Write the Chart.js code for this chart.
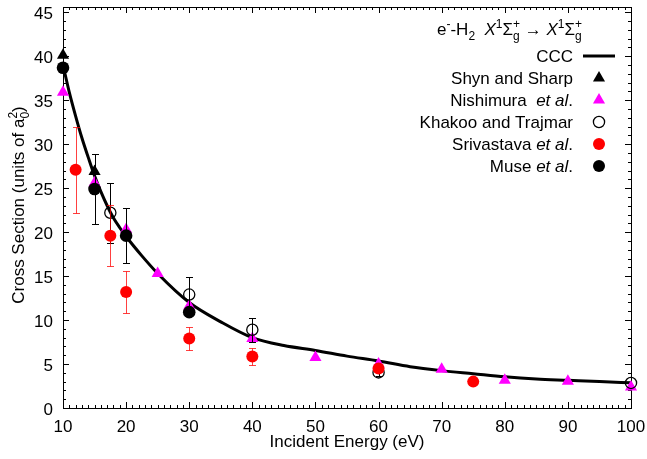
<!DOCTYPE html>
<html>
<head>
<meta charset="utf-8">
<script src="https://cdn.jsdelivr.net/npm/chart.js@4.4.1/dist/chart.umd.min.js"></script>
<style>
  html, body { margin: 0; padding: 0; background: #fff; }
  canvas { display: block; }
</style>
</head>
<body>
<canvas id="xsec" width="647" height="459"></canvas>
<script>
const FONT = '"Liberation Sans", Arial, Helvetica, sans-serif';
const FS = 17;

// axis ticks
const xTicks = [10, 20, 30, 40, 50, 60, 70, 80, 90, 100];
const yTicks = [0, 5, 10, 15, 20, 25, 30, 35, 40, 45];

// CCC theory curve
const cccEnergy = [10, 11, 12, 13, 14, 15, 16, 17, 18, 19, 20, 22.5, 25, 30, 35, 40, 45, 50, 55, 60, 65, 70, 75, 80, 85, 90, 95, 100];
const cccCross  = [39.0, 35.9, 33.2, 30.7, 28.5, 26.4, 24.6, 23.0, 21.6, 20.5, 19.5, 17.3, 15.3, 12.0, 9.8, 8.0, 7.1, 6.55, 5.9, 5.35, 4.7, 4.25, 3.9, 3.55, 3.3, 3.15, 3.0, 2.86];

// experiments
const shynEnergy = [10, 15];
const shynCross  = [40.1, 26.9];

const nishEnergy = [10, 15, 20, 25, 30, 40, 50, 60, 70, 80, 90, 100];
const nishCross  = [35.9, 25.6, 20.3, 15.3, 11.6, 7.9, 5.75, 5.0, 4.4, 3.15, 3.05, 2.4];

const khakooEnergy = [17.5, 30, 40, 60, 100];
const khakooCross  = [22.2, 12.9, 8.9, 4.05, 2.85];
const khakooErr    = [3.4, 2.0, 1.35, 0.4, 0];

const srivEnergy = [12, 17.5, 20, 30, 40, 60, 75];
const srivCross  = [27.1, 19.6, 13.2, 7.9, 5.85, 4.5, 3.0];
const srivErr    = [4.9, 3.5, 2.4, 1.35, 1.0, 0.4, 0.3];

const museEnergy = [10, 15, 20, 30];
const museCross  = [38.7, 24.9, 19.6, 10.9];
const museErr    = [0, 3.95, 3.1, 0];

const pts = (xs, ys) => xs.map((x, i) => ({ x: x, y: ys[i] }));

// rich text: parts with italics, superscripts and subscripts
function layoutRich(ctx, parts, size) {
  let w = 0;
  const items = [];
  for (const p of parts) {
    if (p.t !== undefined) {
      const f = (p.it ? 'italic ' : '') + size + 'px ' + FONT;
      ctx.font = f;
      items.push({ text: p.t, font: f, dx: w, dy: 0 });
      w += ctx.measureText(p.t).width;
    } else {
      const f = Math.round(size * 0.72) + 'px ' + FONT;
      ctx.font = f;
      let adv = 0;
      if (p.sup) { items.push({ text: p.sup, font: f, dx: w, dy: -size * 0.42 }); adv = Math.max(adv, ctx.measureText(p.sup).width); }
      if (p.sub) { items.push({ text: p.sub, font: f, dx: w, dy: size * 0.3 }); adv = Math.max(adv, ctx.measureText(p.sub).width); }
      w += adv;
    }
  }
  return { items, w };
}

function drawRich(ctx, parts, x, y, size, align) {
  const lay = layoutRich(ctx, parts, size);
  let x0 = x;
  if (align === 'right') x0 = x - lay.w;
  if (align === 'center') x0 = x - lay.w / 2;
  ctx.textBaseline = 'alphabetic';
  ctx.textAlign = 'left';
  for (const it of lay.items) {
    ctx.font = it.font;
    ctx.fillText(it.text, x0 + it.dx, y + it.dy);
  }
}

const errorBars = {
  id: 'errorBars',
  beforeDatasetDraw(chart, args) {
    const ds = chart.data.datasets[args.index];
    if (!ds.yErr) return;
    const ctx = chart.ctx, xs = chart.scales.x, ys = chart.scales.y;
    ctx.save();
    ctx.strokeStyle = ds.errColor;
    ctx.lineWidth = 1;
    ds.data.forEach((p, i) => {
      const e = ds.yErr[i];
      if (!e) return;
      const px = Math.round(xs.getPixelForValue(p.x)) + 0.5;
      const top = Math.round(ys.getPixelForValue(p.y + e)) + 0.5;
      const bot = Math.round(ys.getPixelForValue(p.y - e)) + 0.5;
      ctx.beginPath();
      ctx.moveTo(px, top); ctx.lineTo(px, bot);
      ctx.moveTo(px - 3.5, top); ctx.lineTo(px + 3.5, top);
      ctx.moveTo(px - 3.5, bot); ctx.lineTo(px + 3.5, bot);
      ctx.stroke();
    });
    ctx.restore();
  }
};

// gnuplot-style box with inward ticks on all sides
const frame = {
  id: 'frame',
  beforeDatasetsDraw(chart) {
    const ctx = chart.ctx, a = chart.chartArea, xs = chart.scales.x, ys = chart.scales.y;
    ctx.save();
    ctx.strokeStyle = '#000';
    ctx.lineWidth = 1;
    ctx.strokeRect(Math.round(a.left) + 0.5, Math.round(a.top) + 0.5, Math.round(a.right - a.left), Math.round(a.bottom - a.top));
    ctx.beginPath();
    for (let v = 10; v <= 100; v += 1) {
      const px = Math.round(xs.getPixelForValue(v)) + 0.5;
      const len = v % 10 === 0 ? 6 : 3;
      ctx.moveTo(px, a.bottom); ctx.lineTo(px, a.bottom - len);
      ctx.moveTo(px, a.top); ctx.lineTo(px, a.top + len);
    }
    for (let v = 0; v <= 45; v += 1) {
      const py = Math.round(ys.getPixelForValue(v)) + 0.5;
      const len = v % 5 === 0 ? 6 : 3;
      ctx.moveTo(a.left, py); ctx.lineTo(a.left + len, py);
      ctx.moveTo(a.right, py); ctx.lineTo(a.right - len, py);
    }
    ctx.stroke();
    ctx.restore();
  }
};

const labels = {
  id: 'labels',
  afterDraw(chart) {
    const ctx = chart.ctx, a = chart.chartArea;
    ctx.save();
    ctx.fillStyle = '#000';

    // axis titles
    ctx.font = FS + 'px ' + FONT;
    ctx.textAlign = 'center';
    ctx.textBaseline = 'alphabetic';
    ctx.fillText('Incident Energy (eV)', (a.left + a.right) / 2, 447);
    ctx.save();
    ctx.translate(24, 205);
    ctx.rotate(-Math.PI / 2);
    drawRich(ctx, [{ t: 'Cross Section (units of a' }, { sup: '2', sub: '0' }, { t: ')' }], 0, 0, FS, 'center');
    ctx.restore();

    // process label
    drawRich(ctx, [
      { t: 'e' }, { sup: '-' }, { t: '-H' }, { sub: '2' }, { t: '  ' },
      { t: 'X', it: true }, { sup: '1' }, { t: 'Σ' }, { sup: '+', sub: 'g' },
      { t: ' → ' },
      { t: 'X', it: true }, { sup: '1' }, { t: 'Σ' }, { sup: '+', sub: 'g' }
    ], 582, 35, FS, 'right');

    // legend
    const rows = [
      { parts: [{ t: 'CCC' }], kind: 'line' },
      { parts: [{ t: 'Shyn and Sharp' }], kind: 'tri', color: '#000' },
      { parts: [{ t: 'Nishimura  ' }, { t: 'et al', it: true }, { t: '.' }], kind: 'tri', color: '#ff00ff' },
      { parts: [{ t: 'Khakoo and Trajmar' }], kind: 'open' },
      { parts: [{ t: 'Srivastava ' }, { t: 'et al', it: true }, { t: '.' }], kind: 'dot', color: '#ff0000' },
      { parts: [{ t: 'Muse ' }, { t: 'et al', it: true }, { t: '.' }], kind: 'dot', color: '#000' }
    ];
    const sx = 599;
    rows.forEach((r, i) => {
      const cy = 56 + i * 22;
      ctx.fillStyle = '#000';
      drawRich(ctx, r.parts, 573, cy + 6, FS, 'right');
      ctx.beginPath();
      if (r.kind === 'line') {
        ctx.strokeStyle = '#000'; ctx.lineWidth = 3;
        ctx.moveTo(583, cy); ctx.lineTo(615, cy); ctx.stroke();
      } else if (r.kind === 'tri') {
        const R = 7;
        ctx.fillStyle = r.color;
        ctx.moveTo(sx, cy - R);
        ctx.lineTo(sx + R * Math.sin(2 * Math.PI / 3), cy - R * Math.cos(2 * Math.PI / 3));
        ctx.lineTo(sx + R * Math.sin(4 * Math.PI / 3), cy - R * Math.cos(4 * Math.PI / 3));
        ctx.closePath(); ctx.fill();
      } else if (r.kind === 'open') {
        ctx.strokeStyle = '#000'; ctx.lineWidth = 1.3;
        ctx.arc(sx, cy, 5.6, 0, 2 * Math.PI); ctx.stroke();
      } else {
        ctx.fillStyle = r.color;
        ctx.arc(sx, cy, 6, 0, 2 * Math.PI); ctx.fill();
      }
    });
    ctx.restore();
  }
};

new Chart(document.getElementById('xsec'), {
  type: 'scatter',
  data: {
    datasets: [
      {
        type: 'line', label: 'CCC', data: pts(cccEnergy, cccCross),
        borderColor: '#000', borderWidth: 3, pointRadius: 0,
        cubicInterpolationMode: 'monotone', fill: false, order: 6, clip: false
      },
      {
        label: 'Shyn and Sharp', data: pts(shynEnergy, shynCross),
        pointStyle: 'triangle', pointRadius: 7, backgroundColor: '#000',
        borderWidth: 0, pointBorderWidth: 0, order: 5, clip: false
      },
      {
        label: 'Nishimura et al.', data: pts(nishEnergy, nishCross),
        pointStyle: 'triangle', pointRadius: 7, backgroundColor: '#ff00ff',
        borderWidth: 0, pointBorderWidth: 0, order: 4, clip: false
      },
      {
        label: 'Khakoo and Trajmar', data: pts(khakooEnergy, khakooCross), yErr: khakooErr, errColor: '#000',
        pointStyle: 'circle', pointRadius: 5.6, backgroundColor: 'rgba(0,0,0,0)', borderColor: '#000',
        borderWidth: 1.3, pointBorderWidth: 1.3, order: 3, clip: false
      },
      {
        label: 'Srivastava et al.', data: pts(srivEnergy, srivCross), yErr: srivErr, errColor: 'rgba(255,0,0,0.75)',
        pointStyle: 'circle', pointRadius: 6, backgroundColor: '#ff0000',
        borderWidth: 0, pointBorderWidth: 0, order: 2, clip: false
      },
      {
        label: 'Muse et al.', data: pts(museEnergy, museCross), yErr: museErr, errColor: '#000',
        pointStyle: 'circle', pointRadius: 6.3, backgroundColor: '#000',
        borderWidth: 0, pointBorderWidth: 0, order: 1, clip: false
      }
    ]
  },
  options: {
    responsive: false,
    devicePixelRatio: 1,
    animation: false,
    layout: { padding: { top: 5, right: 16, left: 0, bottom: 0 } },
    plugins: { legend: { display: false }, tooltip: { enabled: false } },
    scales: {
      x: {
        type: 'linear', min: 10, max: 100,
        grid: { display: false, drawTicks: false },
        border: { display: false },
        afterBuildTicks: s => { s.ticks = xTicks.map(v => ({ value: v })); },
        afterFit: s => { s.height = 51; s.paddingLeft = 0; s.paddingRight = 0; },
        ticks: { color: '#000', font: { family: FONT, size: FS }, padding: 9, maxRotation: 0 }
      },
      y: {
        type: 'linear', min: 0, max: 45.6,
        grid: { display: false, drawTicks: false },
        border: { display: false },
        afterBuildTicks: s => { s.ticks = yTicks.map(v => ({ value: v })); },
        afterFit: s => { s.width = 63; s.paddingTop = 0; s.paddingBottom = 0; },
        ticks: { color: '#000', font: { family: FONT, size: FS }, padding: 10, labelOffset: 2 }
      }
    }
  },
  plugins: [errorBars, frame, labels]
});
</script>
</body>
</html>
